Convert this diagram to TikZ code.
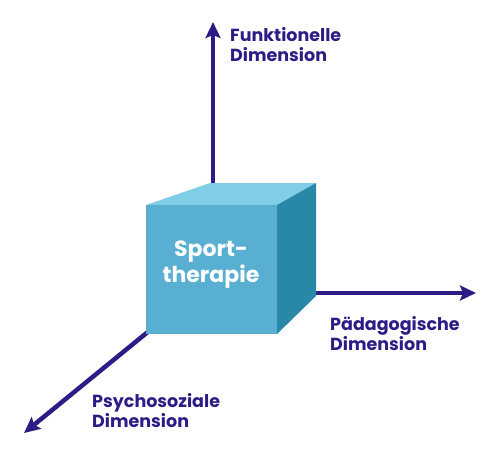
\documentclass[tikz,border=0pt]{standalone}
\usepackage{fontspec}
\setmainfont{Poppins}
\usetikzlibrary{arrows.meta}
\definecolor{axis}{HTML}{2E1C86}
\definecolor{cfront}{HTML}{58AFD2}
\definecolor{ctop}{HTML}{80CDE8}
\definecolor{cside}{HTML}{2888A8}
\tikzset{
  axisline/.style={draw=axis, line width=4.5pt, -{Stealth[length=16pt,width=15pt,inset=3pt]}},
  lbl/.style={text=axis, font=\fontsize{17.5}{20}\selectfont\bfseries, align=left, anchor=north west, inner sep=0pt},
  face/.style={draw=none}
}
\begin{document}
\begin{tikzpicture}[x=1pt,y=-1pt]
\useasboundingbox (0,0) rectangle (500,458);
\coordinate (vstart) at (213,200);
\coordinate (vend) at (213,22);
\coordinate (hstart) at (290,293);
\coordinate (hend) at (476,293);
\coordinate (dstart) at (160,322);
\coordinate (dend) at (24,433);
\draw[axisline] (vstart) -- (vend);
\draw[axisline] (hstart) -- (hend);
\draw[axisline] (dstart) -- (dend);
% cube
\fill[ctop] (146,205) -- (277,205) -- (316,183) -- (210,183) -- cycle;
\fill[cside] (277,205) -- (316,183) -- (316,296) -- (277,334) -- cycle;
\fill[cfront] (146,205) rectangle (277,334);
\node[text=white, font=\fontsize{22}{26}\selectfont\bfseries, align=center] (cube) at (211,265) {Sport-\\therapie};
\node[lbl] (funk) at (230,27) {Funktionelle\\Dimension};
\node[lbl] (paed) at (330,316) {Pädagogische\\Dimension};
\node[lbl] (psy) at (92,393) {Psychosoziale\\Dimension};
\end{tikzpicture}
\end{document}
